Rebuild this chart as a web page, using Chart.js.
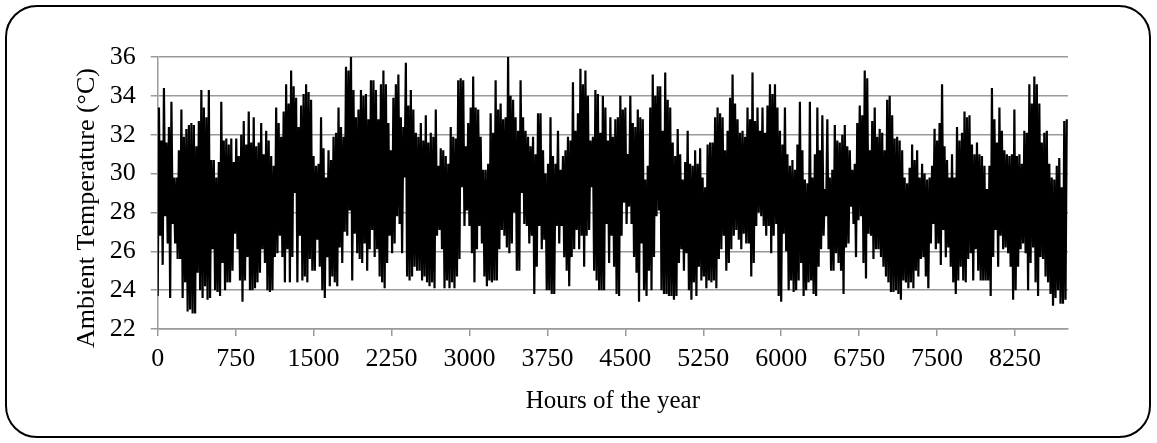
<!DOCTYPE html>
<html>
<head>
<meta charset="utf-8">
<script src="https://cdn.jsdelivr.net/npm/chart.js@4.4.1/dist/chart.umd.min.js"></script>
<style>
  html, body { margin: 0; padding: 0; background: #ffffff; }
  #wrap { position: relative; width: 1157px; height: 443px; }
  #frame { position: absolute; left: 5px; top: 5px; width: 1146px; height: 433px; box-sizing: border-box;
           border: 2px solid #000; border-radius: 32px; pointer-events: none; }
  canvas { position: absolute; left: 0; top: 0; }
</style>
</head>
<body>
<div id="wrap">
  <canvas id="c" width="1157" height="443"></canvas>
  <div id="frame"></div>
</div>
<script>
// Daily maximum temperatures (°C), day 0 .. day 364
const dailyMax = [
  // days 0-28
  33.4, 31.7, 34.4, 31.6, 32.4, 33.7, 29.8, 29.8, 31.2, 33.3, 31.9, 32.3, 32.5, 32.6, 32.5, 31.4, 32.7, 34.3, 33.4, 32.9, 34.3, 30.7, 30.7, 29.8, 30.6, 33.7, 31.7, 31.8, 31.5,
  // days 29-59
  31.8, 30.6, 31.8, 30.9, 32.0, 32.7, 31.5, 33.2, 31.6, 32.9, 31.4, 31.6, 32.6, 31.0, 32.2, 31.7, 30.9, 30.4, 33.4, 32.6, 31.9, 33.2, 34.6, 33.6, 35.3, 34.5, 33.9, 32.4, 33.5, 34.1, 34.6,
  // days 60-90
  34.2, 33.8, 30.9, 30.4, 30.5, 32.9, 31.3, 29.8, 31.2, 30.7, 31.9, 32.1, 33.4, 32.4, 31.9, 35.5, 35.3, 36.0, 34.3, 32.9, 33.3, 34.3, 34.0, 34.1, 32.8, 34.8, 34.8, 34.3, 32.8, 34.6, 35.3,
  // days 91-121
  34.6, 32.6, 31.2, 33.9, 34.6, 35.1, 32.9, 32.4, 35.7, 33.5, 34.3, 33.3, 32.1, 31.9, 32.6, 31.7, 33.0, 31.6, 32.1, 31.9, 33.3, 30.4, 31.3, 31.2, 30.9, 30.5, 32.4, 31.9, 31.8, 34.8, 34.9,
  // days 122-152
  34.8, 31.4, 32.6, 33.4, 35.0, 33.4, 33.3, 31.9, 30.2, 30.2, 30.5, 33.1, 32.1, 34.8, 33.3, 33.6, 32.8, 32.9, 36.0, 34.0, 33.8, 32.9, 32.2, 34.8, 32.9, 32.2, 31.9, 31.4, 31.9, 31.0, 33.1,
  // days 153-183
  33.1, 31.2, 30.0, 30.5, 32.9, 30.9, 30.5, 32.2, 30.2, 30.9, 31.2, 31.9, 31.7, 34.7, 32.2, 33.1, 35.4, 34.6, 35.3, 34.0, 31.7, 31.9, 34.3, 34.1, 32.1, 34.0, 33.4, 31.7, 32.9, 31.9, 32.8,
  // days 184-215
  32.9, 34.0, 33.3, 33.4, 31.0, 34.0, 32.6, 32.4, 33.3, 32.9, 32.8, 29.7, 30.4, 33.4, 35.1, 34.0, 34.5, 34.5, 32.2, 35.2, 33.8, 33.4, 31.6, 30.9, 32.3, 31.0, 29.7, 30.6, 32.2, 30.5, 30.4, 31.2,
  // days 216-246
  30.5, 31.3, 29.8, 29.3, 31.5, 31.6, 31.6, 32.9, 33.4, 33.1, 32.9, 31.2, 32.2, 33.9, 35.1, 33.6, 32.8, 32.1, 32.2, 31.9, 33.4, 32.8, 35.2, 32.7, 33.4, 32.2, 33.4, 32.1, 33.5, 34.6, 34.1,
  // days 247-277
  34.6, 33.4, 32.2, 31.5, 33.4, 31.0, 30.4, 30.7, 30.2, 31.5, 33.7, 31.2, 29.7, 29.5, 33.7, 29.8, 31.0, 33.4, 31.2, 33.0, 29.2, 32.8, 29.8, 30.2, 32.5, 31.7, 31.6, 32.0, 32.5, 31.4, 31.2,
  // days 278-308
  30.2, 30.5, 32.6, 33.5, 33.0, 35.3, 34.9, 31.2, 32.7, 33.4, 31.9, 32.3, 32.1, 31.2, 33.8, 34.0, 33.0, 31.8, 31.9, 31.7, 31.2, 29.8, 29.5, 30.3, 31.5, 30.7, 31.2, 29.8, 30.5, 30.0, 29.7,
  // days 309-364
  29.8, 30.4, 32.3, 31.7, 32.6, 34.6, 31.4, 30.7, 29.8, 31.0, 29.8, 32.4, 31.7, 32.1, 33.2, 32.9, 33.0, 31.5, 31.0, 31.6,
  31.0, 30.9, 30.4, 29.2, 30.4, 34.4, 32.8, 31.6, 33.4, 32.2, 31.2, 31.0, 30.9, 31.0, 33.3, 30.9, 31.0, 30.5, 32.2, 32.1,
  34.6, 33.6, 35.0, 34.6, 33.6, 31.6, 32.1, 32.2, 30.5, 29.8, 29.7, 30.4, 30.8, 29.3, 32.7, 32.8
];

// Daily minimum temperatures (°C), day 0 .. day 364
const dailyMin = [
  // days 0-28
  23.7, 26.8, 25.3, 27.8, 26.4, 23.6, 27.4, 26.4, 25.6, 25.6, 23.6, 24.4, 22.9, 23.0, 22.8, 22.8, 24.9, 24.0, 23.6, 24.2, 23.5, 23.6, 26.1, 24.0, 23.9, 23.7, 25.4, 24.0, 24.4,
  // days 29-59
  24.4, 25.0, 26.9, 26.1, 24.5, 23.4, 24.5, 25.7, 24.0, 24.0, 24.1, 24.4, 24.9, 26.1, 25.4, 24.0, 23.9, 24.0, 25.7, 25.9, 26.8, 25.7, 24.4, 26.1, 24.4, 25.7, 29.0, 24.4, 26.8, 24.5, 24.7,
  // days 60-90
  24.4, 25.6, 25.0, 25.0, 26.6, 25.2, 24.0, 23.6, 25.7, 24.2, 24.7, 24.4, 24.2, 26.2, 25.4, 27.0, 26.8, 28.1, 24.5, 26.9, 25.9, 25.6, 25.4, 26.4, 25.0, 26.1, 27.1, 25.7, 26.1, 24.7, 24.4,
  // days 91-121
  24.1, 25.4, 26.8, 25.9, 26.4, 27.8, 27.4, 25.9, 29.8, 24.7, 24.5, 24.7, 25.2, 25.0, 25.0, 24.5, 24.7, 24.4, 24.2, 24.4, 24.1, 26.8, 27.1, 26.1, 24.1, 24.5, 24.1, 24.4, 24.1, 24.7, 25.6,
  // days 122-152
  29.3, 27.3, 28.1, 27.3, 25.9, 24.4, 26.1, 27.3, 26.4, 24.7, 24.2, 24.5, 24.4, 24.5, 24.5, 26.1, 27.1, 26.8, 26.2, 25.9, 26.4, 28.0, 25.0, 25.0, 29.0, 27.4, 27.3, 26.4, 26.8, 23.8, 25.2,
  // days 153-183
  27.3, 26.1, 26.6, 24.0, 24.0, 23.8, 23.8, 27.3, 26.4, 27.3, 25.7, 25.0, 24.2, 25.7, 26.1, 27.1, 26.1, 26.8, 25.2, 26.8, 27.1, 29.3, 25.0, 24.5, 24.0, 24.0, 24.0, 27.4, 25.4, 26.8, 25.2,
  // days 184-215
  23.8, 23.7, 26.8, 28.5, 27.4, 28.3, 27.4, 25.7, 24.9, 23.4, 26.4, 24.0, 23.7, 25.0, 24.0, 25.7, 27.8, 28.1, 24.0, 23.8, 23.8, 23.7, 23.7, 23.5, 23.7, 25.4, 26.1, 25.0, 25.9, 24.0, 23.5, 24.4,
  // days 216-246
  23.7, 25.2, 24.5, 24.7, 24.1, 24.5, 24.4, 24.5, 24.1, 25.6, 26.1, 26.8, 25.0, 25.4, 26.1, 26.8, 27.1, 26.6, 26.1, 26.9, 26.4, 26.4, 24.7, 25.4, 27.3, 28.0, 27.8, 27.3, 26.8, 27.3, 25.9,
  // days 247-277
  26.8, 27.4, 23.7, 23.4, 26.9, 26.0, 24.0, 24.5, 23.9, 24.0, 24.5, 25.4, 23.7, 24.0, 24.4, 24.5, 23.8, 23.7, 25.2, 26.1, 26.8, 27.8, 26.1, 25.0, 25.0, 25.9, 25.4, 25.0, 23.8, 26.2, 26.4,
  // days 278-308
  28.3, 27.4, 25.7, 27.6, 27.8, 25.4, 24.6, 26.9, 26.8, 25.6, 26.1, 26.1, 25.7, 25.2, 24.7, 24.4, 23.9, 23.9, 24.0, 23.8, 23.5, 24.5, 24.4, 24.1, 24.4, 24.1, 25.0, 24.7, 25.6, 25.7, 24.7,
  // days 309-364
  24.1, 26.4, 27.4, 26.1, 26.4, 25.3, 27.1, 25.7, 26.2, 25.2, 24.4, 23.8, 24.5, 25.2, 24.5, 24.4, 25.6, 25.9, 24.5, 26.1,
  25.0, 24.5, 24.5, 24.5, 24.5, 23.7, 25.7, 27.1, 25.2, 26.8, 26.1, 26.2, 25.9, 25.2, 23.5, 24.0, 25.2, 26.1, 26.4, 25.9,
  24.0, 25.4, 26.2, 24.4, 23.7, 25.7, 25.6, 24.7, 24.4, 23.8, 23.2, 23.6, 24.0, 23.3, 23.3, 23.5
];

const xTickValues = [0, 750, 1500, 2250, 3000, 3750, 4500, 5250, 6000, 6750, 7500, 8250];
const yTickValues = [22, 24, 26, 28, 30, 32, 34, 36];
const hoursPerDay = 24;
const hoursInYear = 8760;
const xTitle = 'Hours of the year';
const yTitle = 'Ambient Temperature (°C)';

// Build the hourly-axis series: the daily minimum early in the day, the maximum at midday
const points = [];
for (let d = 0; d < dailyMax.length; d++) {
  points.push({ x: d * hoursPerDay, y: dailyMin[d] });
  points.push({ x: d * hoursPerDay + 12, y: dailyMax[d] });
}

const gridGrey = '#9a9a9a';
const serif = "'Liberation Serif', 'Times New Roman', serif";

// Draws the vertical axis title, placed as in the original figure
const yTitlePlugin = {
  id: 'yTitle',
  afterDraw(chart) {
    const ctx = chart.ctx;
    ctx.save();
    ctx.translate(87, 208);
    ctx.rotate(-Math.PI / 2);
    ctx.font = "26px " + serif;
    ctx.fillStyle = '#000';
    ctx.textAlign = 'center';
    ctx.textBaseline = 'middle';
    ctx.fillText(yTitle, 0, 0);
    ctx.restore();
  }
};

new Chart(document.getElementById('c'), {
  type: 'line',
  data: {
    datasets: [{
      data: points,
      borderColor: '#000000',
      borderWidth: 2.2,
      pointRadius: 0,
      tension: 0,
      fill: false
    }]
  },
  options: {
    responsive: false,
    animation: false,
    events: [],
    layout: { padding: { left: 60, right: 89, top: 57, bottom: 0 } },
    plugins: { legend: { display: false }, tooltip: { enabled: false } },
    scales: {
      x: {
        type: 'linear',
        min: 0,
        max: hoursInYear,
        afterBuildTicks: (axis) => { axis.ticks = xTickValues.map(v => ({ value: v })); },
        afterFit: (scale) => { scale.height = 114; },
        border: { display: true, color: gridGrey, width: 1.5 },
        grid: { display: true, drawOnChartArea: false, drawTicks: true, tickLength: 7, color: gridGrey, lineWidth: 1.5 },
        ticks: { color: '#000', padding: 8, maxRotation: 0, autoSkip: false,
                 font: { family: serif, size: 26 }, callback: (v) => String(v) },
        title: { display: true, text: xTitle, color: '#000', font: { family: serif, size: 25 }, padding: { top: 0, bottom: 27 } }
      },
      y: {
        min: 22,
        max: 36,
        afterBuildTicks: (axis) => { axis.ticks = yTickValues.map(v => ({ value: v })); },
        afterFit: (scale) => { scale.width = 97.7; },
        border: { display: true, color: gridGrey, width: 1.5 },
        grid: { display: true, drawOnChartArea: true, drawTicks: true, tickLength: 7, color: gridGrey, lineWidth: 1.5 },
        ticks: { color: '#000', padding: 15, font: { family: serif, size: 26 }, callback: (v) => String(v) },
        title: { display: false }
      }
    }
  },
  plugins: [yTitlePlugin]
});
</script>
</body>
</html>
